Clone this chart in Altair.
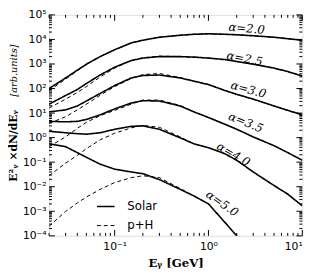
import altair as alt
import pandas as pd

# ---------------- data ----------------
E = [0.02, 0.03, 0.04, 0.05, 0.07, 0.1, 0.15, 0.2, 0.3, 0.5, 0.7, 1, 1.5, 2, 3, 5, 7, 10]

alphas = ["2.0", "2.5", "3.0", "3.5", "4.0", "5.0"]

solar_20 = [100, 270, 560, 980, 2000, 3800, 7200, 9300, 12300, 14800, 16200, 17000, 16200, 15500, 14100, 12300, 10700, 9300]
solar_25 = [23, 52, 91, 160, 355, 740, 1380, 1740, 2000, 2000, 1900, 1740, 1510, 1260, 980, 680, 490, 324]
solar_30 = [11.2, 13.5, 19.5, 31, 63, 132, 270, 340, 355, 270, 200, 145, 83, 58, 37, 19.5, 12.9, 8.5]
solar_35 = [4.6, 4.4, 4.6, 5.5, 8.5, 14.8, 25.7, 32, 31, 19.5, 11.2, 6.6, 3.5, 2.2, 1.07, 0.47, 0.245, 0.12]
solar_40 = [1.82, 1.58, 1.45, 1.38, 1.58, 2.19, 2.88, 3.02, 2.19, 0.98, 0.56, 0.39, 0.22, 0.12, 0.040, 0.0112, 0.0050, 0.00166]
solar_50 = [0.56, 0.43, 0.245, 0.158, 0.083, 0.052, 0.040, 0.034, 0.0195, 0.0078, 0.0042, 0.0020, 0.00035, 0.0001, 0.00002]

# p+H curves: low-energy part differs, then they follow the Solar curves
pH_20_low = [83, 240, 530, 960]
pH_25_low = [16, 37, 69, 120, 295, 680, 1380, 1800, 2090]
pH_30_low = [3.8, 7.1, 13.5, 23, 53, 120, 257, 370, 410, 280]
pH_35_low = [0.43, 1.07, 2.4, 4.2, 7.8, 12.9, 23, 34, 34, 20.4]
pH_40_low = [0.028, 0.091, 0.19, 0.355, 0.81, 1.51, 2.5, 3.16, 2.63, 1.07]
pH_50_low = [0.000245, 0.00098, 0.0022, 0.0038, 0.0078, 0.0148, 0.0234, 0.028, 0.0234, 0.0085]

label_E = [2.55, 2.43, 2.67, 2.5, 1.85, 1.4]
label_v = [28000, 1670, 91, 4.2, 0.21, 0.0021]
label_angle = [5, 11, 15, 22, 30, 35]

y_major = [10.0 ** k for k in range(-4, 6)]
y_minor = [m * 10.0 ** k for k in range(-4, 5) for m in range(2, 10)]
x_major = [0.1, 1, 10]
x_minor = [m * 10.0 ** k for k in range(-2, 1) for m in range(2, 10)]

# ---------------- build table ----------------
solar = [solar_20, solar_25, solar_30, solar_35, solar_40, solar_50]
pH_low = [pH_20_low, pH_25_low, pH_30_low, pH_35_low, pH_40_low, pH_50_low]

rows = []
for a, s, low in zip(alphas, solar, pH_low):
    for e, v in zip(E, s):
        rows.append({"E": e, "v": v, "series": "S" + a, "kind": "Solar"})
    p = low + s[len(low):]
    for e, v in zip(E, p):
        rows.append({"E": e, "v": v, "series": "P" + a, "kind": "p+H"})
df = pd.DataFrame(rows)

labels = pd.DataFrame({
    "E": label_E, "v": label_v, "ang": label_angle,
    "txt": ["α=" + a for a in alphas],
})

W, H = 259, 226
xscale = alt.Scale(type="log", domain=[0.02, 10], nice=False)
yscale = alt.Scale(type="log", domain=[1e-4, 1e5], nice=False)

sup = "'⁰¹²³⁴⁵⁶⁷⁸⁹'"
expo = "round(log(datum.value)/LN10)"
label_expr = (f"'10' + ({expo} < 0 ? '⁻' : '') + "
              f"substring({sup}, abs({expo}), abs({expo}) + 1)")

xaxis = alt.Axis(values=x_major, labelExpr=label_expr, ticks=False, domain=False,
                 grid=False, labelFont="DejaVu Sans", labelFontSize=11,
                 labelPadding=5, labelColor="black",
                 title="Eᵧ [GeV]", titleFont="DejaVu Serif", titleFontSize=12,
                 titleFontWeight="bold", titleColor="black", titlePadding=6)
yaxis = alt.Axis(values=y_major, labelExpr=label_expr, ticks=False, domain=False,
                 grid=False, labelFont="DejaVu Sans", labelFontSize=11,
                 labelPadding=3, labelColor="black", title=None)

kinds = ["Solar", "p+H"]
lines = alt.Chart(df).mark_line(clip=True, color="black").encode(
    x=alt.X("E:Q", scale=xscale, axis=xaxis),
    y=alt.Y("v:Q", scale=yscale, axis=yaxis),
    detail="series:N",
    strokeDash=alt.StrokeDash(
        "kind:N",
        scale=alt.Scale(domain=kinds, range=[[1, 0], [4, 3]]),
        legend=alt.Legend(title=None, orient="none", legendX=48, legendY=186,
                          symbolType="stroke", symbolSize=324, symbolStrokeColor="black",
                          symbolStrokeWidth=1.4, labelFont="DejaVu Sans",
                          labelFontSize=12, labelColor="black", labelOffset=12,
                          rowPadding=4)),
    strokeWidth=alt.StrokeWidth("kind:N",
                                scale=alt.Scale(domain=kinds, range=[1.6, 1.0]),
                                legend=None),
)

text = alt.Chart(labels).mark_text(font="DejaVu Serif", fontStyle="italic",
                                   fontSize=12, color="black").encode(
    x=alt.X("E:Q", scale=xscale, axis=xaxis),
    y=alt.Y("v:Q", scale=yscale, axis=yaxis),
    angle=alt.Angle("ang:Q", scale=None),
    text="txt:N",
)


def tick_layer(vals, length, side):
    d = pd.DataFrame({"E": vals, "v": vals})
    m = alt.Chart(d).mark_rule(color="black", strokeWidth=1)
    if side == "left":
        return m.encode(y=alt.Y("v:Q", scale=yscale, axis=yaxis), x=alt.value(0), x2=alt.value(length))
    if side == "right":
        return m.encode(y=alt.Y("v:Q", scale=yscale, axis=yaxis), x=alt.value(W), x2=alt.value(W - length))
    if side == "bottom":
        return m.encode(x=alt.X("E:Q", scale=xscale, axis=xaxis), y=alt.value(H), y2=alt.value(H - length))
    return m.encode(x=alt.X("E:Q", scale=xscale, axis=xaxis), y=alt.value(0), y2=alt.value(length))


tick_layers = []
for side in ["left", "right"]:
    tick_layers.append(tick_layer(y_major, 6, side))
    tick_layers.append(tick_layer(y_minor, 3, side))
for side in ["bottom", "top"]:
    tick_layers.append(tick_layer(x_major, 6, side))
    tick_layers.append(tick_layer(x_minor, 3, side))

one = pd.DataFrame({"k": [0]})
ytitle_bold = alt.Chart(one).mark_text(font="DejaVu Serif", fontWeight="bold", fontSize=11,
                                       color="black", angle=270, baseline="middle",
                                       align="center").encode(
    x=alt.value(-36), y=alt.value(134), text=alt.value("E²ᵧ ×dN/dEᵧ"))
ytitle_it = alt.Chart(one).mark_text(font="DejaVu Serif", fontStyle="italic", fontSize=10,
                                     color="black", angle=270, baseline="middle",
                                     align="center").encode(
    x=alt.value(-36), y=alt.value(57), text=alt.value("[arb.units]"))

chart = alt.layer(lines, text, *tick_layers, ytitle_bold, ytitle_it).properties(
    width=W, height=H,
    autosize=alt.AutoSizeParams(type="none"),
    padding={"left": 42, "top": 4, "right": 12, "bottom": 36},
).configure_view(stroke="black", strokeWidth=1.2).configure(background="white")

chart.save("out.html", embed_options={"renderer": "svg", "actions": False})
